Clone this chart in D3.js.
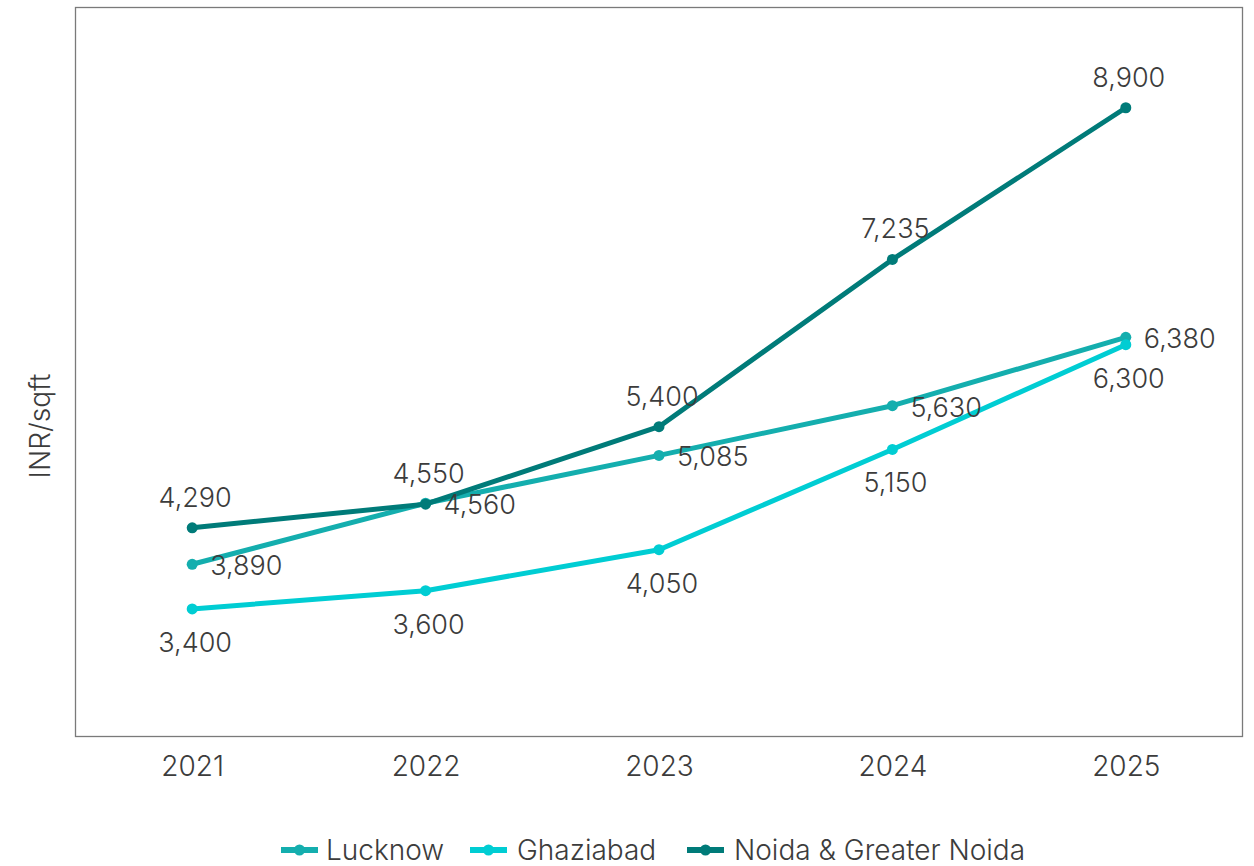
<!DOCTYPE html>
<html>
<head>
<meta charset="utf-8">
<script src="https://cdn.jsdelivr.net/npm/d3@7"></script>
<style>
  html, body { margin: 0; padding: 0; background: #fff; }
  svg { display: block; font-family: Inter, "Noto Sans", sans-serif; font-weight: 300; }
</style>
</head>
<body>
<svg id="chart" width="1254" height="866"></svg>
<script>
// Average residential price, INR per square foot
const years = ["2021", "2022", "2023", "2024", "2025"];
const lucknow = [3890, 4560, 5085, 5630, 6380];
const ghaziabad = [3400, 3600, 4050, 5150, 6300];
const noida = [4290, 4550, 5400, 7235, 8900];
const seriesNames = ["Lucknow", "Ghaziabad", "Noida & Greater Noida"];
const seriesColors = ["#14aeae", "#00cdd3", "#007b79"];
const yDomain = [2000, 10000];

const series = [
  { name: seriesNames[0], values: lucknow, color: seriesColors[0], label: "right" },
  { name: seriesNames[1], values: ghaziabad, color: seriesColors[1], label: "below" },
  { name: seriesNames[2], values: noida, color: seriesColors[2], label: "above" }
];

const svg = d3.select("#chart");
const plot = { left: 75.5, top: 7.5, right: 1242.5, bottom: 736.5 };
const textColor = "#3c3c3c";
const fmt = d3.format(",");

const x = d3.scalePoint().domain(years).range([plot.left, plot.right]).padding(0.5);
const y = d3.scaleLinear().domain(yDomain).range([plot.bottom, plot.top]);

// plot frame
svg.append("rect")
  .attr("x", plot.left).attr("y", plot.top)
  .attr("width", plot.right - plot.left).attr("height", plot.bottom - plot.top)
  .attr("fill", "none").attr("stroke", "#7a7a7a").attr("stroke-width", 1.3);

// x axis labels
const xAxis = svg.append("g")
  .attr("transform", `translate(0,${plot.bottom})`)
  .call(d3.axisBottom(x).tickSize(0).tickPadding(20));
xAxis.select(".domain").remove();
xAxis.selectAll("text")
  .attr("font-size", 28).attr("fill", textColor)
  .attr("font-family", "Inter, 'Noto Sans', sans-serif")
  .attr("font-weight", 300);

// y axis title
svg.append("text")
  .attr("transform", "translate(50,426) rotate(-90)")
  .attr("text-anchor", "middle")
  .attr("font-size", 28).attr("fill", textColor)
  .text("INR/sqft");

const line = d3.line().x((d, i) => x(years[i])).y(d => y(d));

// lines and markers
series.forEach(s => {
  const g = svg.append("g");
  g.append("path")
    .datum(s.values)
    .attr("d", line)
    .attr("fill", "none")
    .attr("stroke", s.color)
    .attr("stroke-width", 5)
    .attr("stroke-linejoin", "round")
    .attr("stroke-linecap", "round");
  g.selectAll("circle").data(s.values).join("circle")
    .attr("cx", (d, i) => x(years[i]))
    .attr("cy", d => y(d))
    .attr("r", 5.5)
    .attr("fill", s.color);
});

// data labels
series.forEach(s => {
  svg.append("g").selectAll("text").data(s.values).join("text")
    .attr("x", (d, i) => {
      const cx = x(years[i]);
      return s.label === "right" ? cx + 18 : cx + 3;
    })
    .attr("y", d => {
      const cy = y(d);
      if (s.label === "above") return cy - 21;
      if (s.label === "below") return cy + 43;
      return cy + 11;
    })
    .attr("text-anchor", s.label === "right" ? "start" : "middle")
    .attr("font-size", 27)
    .attr("fill", textColor)
    .text(d => fmt(d));
});

// legend
const legendItems = [
  { sx: 281, tx: 326 },
  { sx: 470, tx: 517 },
  { sx: 687, tx: 734 }
];
const legendY = 850;
series.forEach((s, i) => {
  const it = legendItems[i];
  const g = svg.append("g");
  g.append("line")
    .attr("x1", it.sx).attr("x2", it.sx + 37)
    .attr("y1", legendY).attr("y2", legendY)
    .attr("stroke", s.color).attr("stroke-width", 6);
  g.append("circle")
    .attr("cx", it.sx + 18.5).attr("cy", legendY).attr("r", 5.5)
    .attr("fill", s.color);
  g.append("text")
    .attr("x", it.tx).attr("y", legendY + 10)
    .attr("font-size", 28).attr("fill", textColor)
    .text(s.name);
});
</script>
</body>
</html>
